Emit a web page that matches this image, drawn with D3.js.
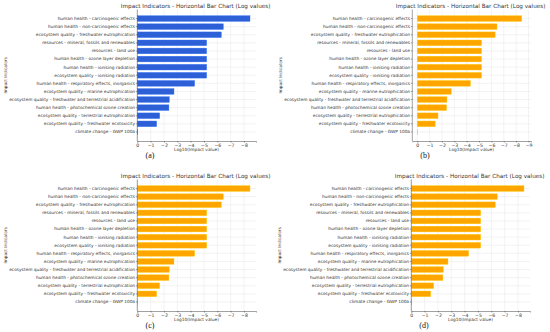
<!DOCTYPE html>
<html>
<head>
<meta charset="utf-8">
<script src="https://cdn.jsdelivr.net/npm/d3@7"></script>
<style>
  body { margin: 0; background: #fff; }
  svg { display: block; font-family: "DejaVu Sans", sans-serif; }
</style>
</head>
<body>
<div id="chart"></div>
<script>
const categories = [
  'human health - carcinogenic effects',
  'human health - non-carcinogenic effects',
  'ecosystem quality - freshwater eutrophication',
  'resources - mineral, fossils and renewables',
  'resources - land use',
  'human health - ozone layer depletion',
  'human health - ionising radiation',
  'ecosystem quality - ionising radiation',
  'human health - respiratory effects, inorganics',
  'ecosystem quality - marine eutrophication',
  'ecosystem quality - freshwater and terrestrial acidification',
  'human health - photochemical ozone creation',
  'ecosystem quality - terrestrial eutrophication',
  'ecosystem quality - freshwater ecotoxicity',
  'climate change - GWP 100a'
];

// log10 of impact values, same for every panel
const logValues = [-8.45, -6.45, -6.3, -5.2, -5.2, -5.2, -5.2, -5.2, -4.3, -2.75, -2.4, -2.37, -1.68, -1.45, -0.03];

const panels = [
  { caption: '(a)', color: '#2d5fd6', ticks: [0, -1, -2, -3, -4, -5, -6, -7, -8], domain: [0, -8.9], dx: 0, dy: 0 },
  { caption: '(b)', color: '#ffa500', ticks: [0, -1, -2, -3, -4, -5, -6, -7, -8, -9], domain: [0.4, -9.2], dx: 275, dy: 0 },
  { caption: '(c)', color: '#ffa500', ticks: [0, -1, -2, -3, -4, -5, -6, -7, -8], domain: [0, -8.9], dx: 0, dy: 170 },
  { caption: '(d)', color: '#ffa500', ticks: [0, -1, -2, -3, -4, -5, -6, -7, -8], domain: [0, -8.9], dx: 274, dy: 170 }
];

const W = 550, H = 332;
const svg = d3.select('#chart').append('svg')
  .attr('width', W)
  .attr('height', H);

// pick a font size so that a string is about as wide as in the picture
function fitSize(str, width) {
  const t = svg.append('text').attr('font-size', 10).text(str);
  const w = t.node().getComputedTextLength();
  t.remove();
  return 10 * width / w;
}
const labelSize = fitSize('ecosystem quality - freshwater and terrestrial acidification', 126);
const titleSize = fitSize('Impact Indicators - Horizontal Bar Chart (Log values)', 150);
const xTitleSize = fitSize('Log10(Impact value)', 45);
const tickSize = 4.6;

const plotLeft = 137.3, plotRight = 256, plotTop = 9.5, plotBottom = 141;
const fmt = d => d === 0 ? '0' : '\u2212' + Math.abs(d);

panels.forEach(p => {
  const g = svg.append('g').attr('transform', `translate(${p.dx},${p.dy})`);

  const x = d3.scaleLinear().domain(p.domain).range([plotLeft, plotRight]);
  const y = d3.scaleBand().domain(categories)
    .range([plotTop + 5, plotBottom - 5])
    .paddingInner(0.3).paddingOuter(0.15);

  // grid
  g.append('g').selectAll('line.vg')
    .data(p.ticks).enter().append('line')
    .attr('x1', d => x(d)).attr('x2', d => x(d))
    .attr('y1', plotTop).attr('y2', plotBottom)
    .attr('stroke', '#e6e6e6').attr('stroke-width', 0.5);
  g.append('g').selectAll('line.hg')
    .data(categories).enter().append('line')
    .attr('x1', plotLeft).attr('x2', plotRight)
    .attr('y1', d => y(d) + y.bandwidth() / 2).attr('y2', d => y(d) + y.bandwidth() / 2)
    .attr('stroke', '#e6e6e6').attr('stroke-width', 0.5);

  // bars
  g.selectAll('rect.bar')
    .data(categories).enter().append('rect')
    .attr('class', 'bar')
    .attr('x', d => Math.min(x(0), x(logValues[categories.indexOf(d)])))
    .attr('y', d => y(d))
    .attr('width', d => Math.abs(x(logValues[categories.indexOf(d)]) - x(0)))
    .attr('height', y.bandwidth())
    .attr('fill', p.color)
    .attr('stroke', d3.color(p.color).brighter(0.6))
    .attr('stroke-width', 0.4);

  // axes
  const xAxis = g.append('g')
    .attr('transform', `translate(0,${plotBottom})`)
    .call(d3.axisBottom(x).tickValues(p.ticks).tickFormat(fmt).tickSize(1.5).tickPadding(0.8));
  xAxis.select('.domain').attr('stroke', '#444').attr('stroke-width', 0.5);
  xAxis.selectAll('.tick line').attr('stroke', '#444').attr('stroke-width', 0.5);
  xAxis.selectAll('text').attr('font-size', tickSize).attr('fill', '#333')
    .attr('font-family', '"DejaVu Sans", sans-serif');

  const yAxis = g.append('g')
    .attr('transform', `translate(${plotLeft},0)`)
    .call(d3.axisLeft(y).tickSize(1.5).tickPadding(0.8));
  yAxis.select('.domain').attr('stroke', '#444').attr('stroke-width', 0.5)
    .attr('d', `M-0,${plotTop}V${plotBottom}`);
  yAxis.selectAll('.tick line').attr('stroke', '#444').attr('stroke-width', 0.5);
  yAxis.selectAll('text').attr('font-size', labelSize).attr('fill', '#333')
    .attr('font-family', '"DejaVu Sans", sans-serif');

  // titles
  g.append('text')
    .attr('x', (plotLeft + plotRight) / 2 - 1).attr('y', 7.5)
    .attr('text-anchor', 'middle')
    .attr('font-size', titleSize).attr('fill', '#333')
    .text('Impact Indicators - Horizontal Bar Chart (Log values)');

  g.append('text')
    .attr('x', 196.5).attr('y', 151)
    .attr('text-anchor', 'middle')
    .attr('font-size', xTitleSize).attr('fill', '#333')
    .text('Log10(Impact value)');

  g.append('text')
    .attr('transform', `translate(6.5,${(plotTop + plotBottom) / 2}) rotate(-90)`)
    .attr('text-anchor', 'middle')
    .attr('font-size', 4.2).attr('fill', '#333')
    .text('Impact Indicators');

  g.append('text')
    .attr('x', 150).attr('y', 157.5)
    .attr('text-anchor', 'middle')
    .attr('font-family', '"Liberation Serif", serif')
    .attr('font-size', 8).attr('fill', '#111')
    .text(p.caption);
});
</script>
</body>
</html>
